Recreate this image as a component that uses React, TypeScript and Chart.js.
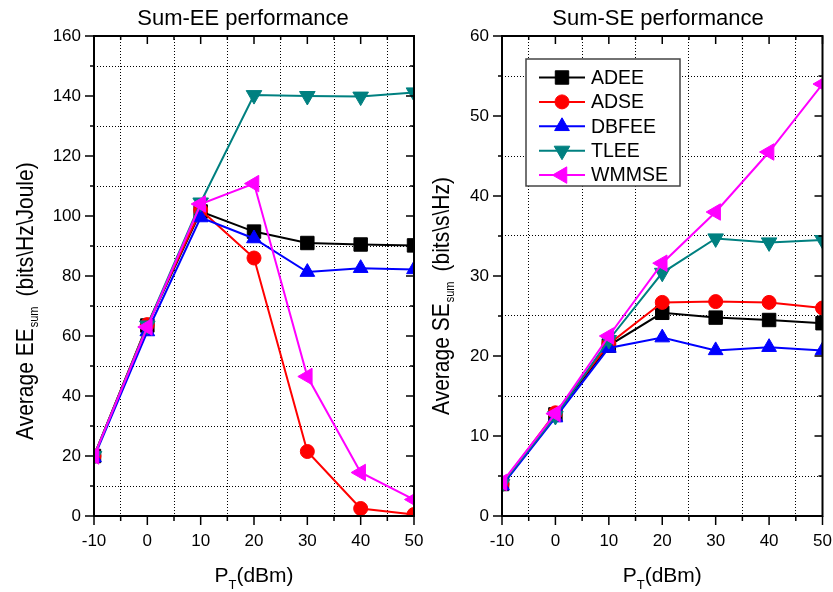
import React, { useEffect, useRef } from 'react';
import { Chart, registerables } from 'chart.js';
import { drawPoint } from 'chart.js/helpers';

Chart.register(...registerables);

// ---------- data ----------
const powerDbm = [-10, 0, 10, 20, 30, 40, 50];
const seriesNames = ['ADEE', 'ADSE', 'DBFEE', 'TLEE', 'WMMSE'];

const eeADEE = [20, 63.5, 101.5, 94.8, 91, 90.5, 90.2];
const eeADSE = [20, 63.8, 102, 86, 21.5, 2.5, 0.5];
const eeDBFEE = [19.5, 61.5, 99.5, 92.5, 81.3, 82.6, 82.2];
const eeTLEE = [20, 63.5, 104.5, 140.3, 140, 139.8, 141.2];
const eeWMMSE = [20, 63, 104, 110.8, 46.5, 14.5, 5.5];

const seADEE = [4, 12.7, 21.3, 25.4, 24.8, 24.5, 24.1];
const seADSE = [4, 12.9, 21.5, 26.7, 26.8, 26.7, 26];
const seDBFEE = [3.8, 12.3, 21, 22.3, 20.7, 21.1, 20.7];
const seTLEE = [4, 12.5, 22, 30.4, 34.7, 34.2, 34.5];
const seWMMSE = [4.2, 12.8, 22.5, 31.6, 38, 45.5, 54];

const xMin = -10;
const xMax = 50;
const xStep = 5;
const xMajor = 10;

// ---------- styles ----------
const FONT = 'Arial, "Liberation Sans", sans-serif';
const colors = ['#000000', '#ff0000', '#0000ff', '#008080', '#ff00ff'];
const pointStyles = ['rect', 'circle', 'triangle', 'triangle', 'triangle'];
const pointRotations = [0, 0, 0, 180, 270];
const pointRadii = [9.5, 7, 8.5, 9, 9.5];
const drawOrders = [5, 4, 3, 2, 1];

type Panel = {
  left: number;
  width: number;
  areaLeft: number;
  areaRight: number;
  yMax: number;
  yStep: number;
  yMajor: number;
  series: number[][];
  title: string;
  titleCenter: number;
  yTitleA: string;
  yTitleB: string;
  yTitleX: number;
  yTitleBottom: number;
  legend: boolean;
};

const panels: Panel[] = [
  {
    left: 0,
    width: 428,
    areaLeft: 94,
    areaRight: 414,
    yMax: 160,
    yStep: 10,
    yMajor: 20,
    series: [eeADEE, eeADSE, eeDBFEE, eeTLEE, eeWMMSE],
    title: 'Sum-EE performance',
    titleCenter: 243,
    yTitleA: 'Average EE',
    yTitleB: '(bits\\Hz\\Joule)',
    yTitleX: 33,
    yTitleBottom: 440,
    legend: false,
  },
  {
    left: 428,
    width: 405,
    areaLeft: 74,
    areaRight: 395,
    yMax: 60,
    yStep: 5,
    yMajor: 10,
    series: [seADEE, seADSE, seDBFEE, seTLEE, seWMMSE],
    title: 'Sum-SE performance',
    titleCenter: 230,
    yTitleA: 'Average SE',
    yTitleB: '(bits\\s\\Hz)',
    yTitleX: 21,
    yTitleBottom: 415,
    legend: true,
  },
];

const HEIGHT = 592;
const AREA_TOP = 36;
const AREA_BOTTOM = 516;

function makeDecorPlugin(p: Panel) {
  return {
    id: 'decor',
    afterDatasetsDraw(chart: any) {
      const { ctx, chartArea: a, scales } = chart;
      const xs = scales.x;
      const ys = scales.y;
      ctx.save();
      ctx.strokeStyle = '#000';
      ctx.lineWidth = 1.5;
      const seg = (x1: number, y1: number, x2: number, y2: number) => {
        ctx.beginPath();
        ctx.moveTo(x1, y1);
        ctx.lineTo(x2, y2);
        ctx.stroke();
      };
      xs.ticks.forEach((t: any) => {
        const px = xs.getPixelForValue(t.value);
        const major = t.value % xMajor === 0;
        seg(px, a.bottom, px, a.bottom + (major ? 9 : 5));
        seg(px, a.top, px, a.top + (major ? 8 : 4));
      });
      ys.ticks.forEach((t: any) => {
        const py = ys.getPixelForValue(t.value);
        const major = t.value % p.yMajor === 0;
        seg(a.left - (major ? 9 : 4), py, a.left, py);
        seg(a.right - (major ? 8 : 4), py, a.right, py);
      });
      ctx.lineWidth = 2;
      ctx.strokeRect(a.left, a.top, a.right - a.left, a.bottom - a.top);

      // title
      ctx.fillStyle = '#000';
      ctx.font = `22px ${FONT}`;
      ctx.textAlign = 'center';
      ctx.textBaseline = 'alphabetic';
      ctx.fillText(p.title, p.titleCenter, 25);

      // x title P_T(dBm)
      const cx = (a.left + a.right) / 2;
      ctx.textAlign = 'left';
      ctx.font = `21px ${FONT}`;
      const wP = ctx.measureText('P').width;
      ctx.font = `13px ${FONT}`;
      const wT = ctx.measureText('T').width;
      ctx.font = `21px ${FONT}`;
      const wR = ctx.measureText('(dBm)').width;
      const total = wP + wT + wR;
      let sx = cx - total / 2;
      ctx.fillText('P', sx, 582);
      sx += wP;
      ctx.font = `13px ${FONT}`;
      ctx.fillText('T', sx, 589);
      sx += wT;
      ctx.font = `21px ${FONT}`;
      ctx.fillText('(dBm)', sx, 582);

      // y title (rotated)
      ctx.save();
      ctx.translate(p.yTitleX, p.yTitleBottom);
      ctx.rotate(-Math.PI / 2);
      ctx.scale(1, 1.15);
      ctx.textAlign = 'left';
      ctx.font = `21px ${FONT}`;
      let tx = 0;
      ctx.fillText(p.yTitleA, tx, 0);
      tx += ctx.measureText(p.yTitleA).width + 1;
      ctx.font = `11px ${FONT}`;
      ctx.fillText('sum', tx, 4.5);
      tx += ctx.measureText('sum').width + 10;
      ctx.font = `21px ${FONT}`;
      ctx.fillText(p.yTitleB, tx, 0);
      ctx.restore();

      ctx.restore();
    },
    afterDraw(chart: any) {
      if (!p.legend) return;
      const ctx = chart.ctx;
      const bx = 98;
      const by = 59;
      const bw = 154;
      const bh = 127;
      ctx.save();
      ctx.fillStyle = '#fff';
      ctx.fillRect(bx, by, bw, bh);
      ctx.strokeStyle = '#444';
      ctx.lineWidth = 1.5;
      ctx.strokeRect(bx, by, bw, bh);
      chart.data.datasets.forEach((ds: any, i: number) => {
        const cy = 77.5 + i * 24.4;
        ctx.strokeStyle = ds.borderColor;
        ctx.lineWidth = 2;
        ctx.beginPath();
        ctx.moveTo(111, cy);
        ctx.lineTo(157, cy);
        ctx.stroke();
        ctx.fillStyle = ds.backgroundColor;
        ctx.strokeStyle = ds.borderColor;
        ctx.lineWidth = 1;
        drawPoint(ctx, {
          pointStyle: ds.pointStyle,
          radius: ds.pointRadius,
          rotation: ds.pointRotation,
          borderWidth: 1,
        } as any, 134, cy);
        ctx.fillStyle = '#000';
        ctx.font = `19.5px ${FONT}`;
        ctx.textAlign = 'left';
        ctx.textBaseline = 'middle';
        ctx.fillText(ds.label, 163, cy + 1);
      });
      ctx.restore();
    },
  };
}

function PanelChart({ p }: { p: Panel }) {
  const ref = useRef<HTMLCanvasElement | null>(null);
  useEffect(() => {
    if (!ref.current) return;
    const datasets = seriesNames.map((name, i) => ({
      label: name,
      data: powerDbm.map((x, k) => ({ x, y: p.series[i][k] })),
      borderColor: colors[i],
      backgroundColor: colors[i],
      borderWidth: 2,
      pointStyle: pointStyles[i],
      pointRadius: pointRadii[i],
      pointRotation: pointRotations[i],
      pointBorderWidth: 1,
      pointBorderColor: colors[i],
      pointBackgroundColor: colors[i],
      tension: 0,
      clip: 0,
      order: drawOrders[i],
    }));
    const chart = new Chart(ref.current, {
      type: 'line',
      data: { datasets } as any,
      options: {
        responsive: false,
        animation: false,
        devicePixelRatio: 1,
        layout: { padding: { left: 0, right: p.width - p.areaRight, top: AREA_TOP, bottom: 0 } },
        plugins: {
          legend: { display: false },
          tooltip: { enabled: false },
          title: { display: false },
        },
        scales: {
          x: {
            type: 'linear',
            min: xMin,
            max: xMax,
            ticks: {
              stepSize: xStep,
              autoSkip: false,
              maxRotation: 0,
              padding: 15,
              color: '#000',
              font: { family: FONT, size: 17 },
              callback: (v: any) => (Number(v) % xMajor === 0 ? String(v) : ''),
            },
            grid: {
              drawTicks: false,
              lineWidth: 1,
              color: (c: any) => (c.tick && c.tick.value % xMajor !== 0 ? '#000' : 'rgba(0,0,0,0)'),
            },
            border: { display: false, dash: [1, 2] },
            afterFit: (s: any) => {
              s.height = HEIGHT - AREA_BOTTOM;
              s.paddingLeft = 0;
              s.paddingRight = 0;
            },
          },
          y: {
            type: 'linear',
            min: 0,
            max: p.yMax,
            ticks: {
              stepSize: p.yStep,
              autoSkip: false,
              padding: 13,
              color: '#000',
              font: { family: FONT, size: 17 },
              callback: (v: any) => (Number(v) % p.yMajor === 0 ? String(v) : ''),
            },
            grid: {
              drawTicks: false,
              lineWidth: 1,
              color: (c: any) => (c.tick && c.tick.value % p.yMajor !== 0 ? '#000' : 'rgba(0,0,0,0)'),
            },
            border: { display: false, dash: [1, 2] },
            afterFit: (s: any) => {
              s.width = p.areaLeft;
              s.paddingTop = 0;
              s.paddingBottom = 0;
            },
          },
        },
      } as any,
      plugins: [makeDecorPlugin(p)],
    });
    return () => chart.destroy();
  }, [p]);
  return (
    <canvas
      ref={ref}
      width={p.width}
      height={HEIGHT}
      style={{ position: 'absolute', left: p.left, top: 0, width: p.width, height: HEIGHT }}
    />
  );
}

export default function App() {
  return (
    <div
      style={{
        position: 'fixed',
        left: 0,
        top: 0,
        width: 833,
        height: HEIGHT,
        background: '#fff',
        overflow: 'hidden',
      }}
    >
      {panels.map((p) => (
        <PanelChart key={p.title} p={p} />
      ))}
    </div>
  );
}
